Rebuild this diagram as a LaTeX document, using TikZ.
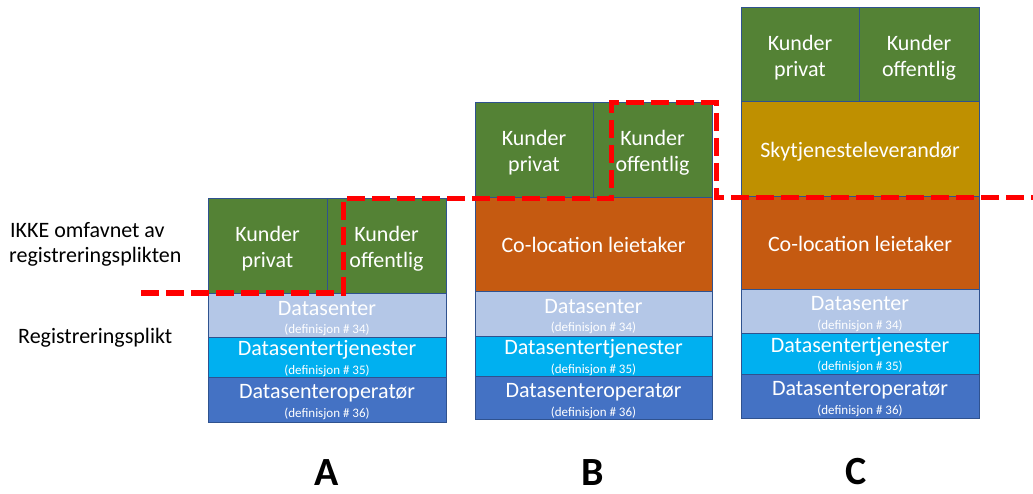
\documentclass[tikz,border=0pt]{standalone}
\usepackage{fontspec}
\setmainfont{Carlito}
\usetikzlibrary{calc}
\definecolor{kgreen}{HTML}{548235}
\definecolor{korange}{HTML}{C55A11}
\definecolor{kgold}{HTML}{BF9000}
\definecolor{kds}{HTML}{B4C7E7}
\definecolor{kdt}{HTML}{00B0F0}
\definecolor{kdo}{HTML}{4472C4}
\definecolor{kborder}{HTML}{2F528F}
\definecolor{kred}{HTML}{FF0000}
\tikzset{
  layer/.style={draw=kborder, line width=1pt, anchor=north west, inner sep=0pt, outer sep=0pt},
  big/.style={text=white, font=\fontsize{22}{26}\selectfont, text height=16pt, text depth=0pt},
  wtxt/.style={text=white, font=\fontsize{22}{26}\selectfont, anchor=base, inner sep=0pt},
  stxt/.style={text=white, font=\fontsize{13}{15}\selectfont, anchor=base, inner sep=0pt},
  side/.style={text=black, font=\fontsize{22}{26}\selectfont, anchor=base west, inner sep=0pt},
  letter/.style={text=black, font=\fontsize{40}{44}\selectfont\bfseries, anchor=base, inner sep=0pt},
  redline/.style={draw=kred, line width=5pt, dash pattern=on 18pt off 7pt}
}
\begin{document}
\begin{tikzpicture}[x=1pt,y=-1pt]
\useasboundingbox (0,0) rectangle (1033,494);

% ---------- Column A ----------
\node[layer, fill=kgreen, minimum width=119pt, minimum height=95pt] (akp) at (208,199) {};
\node[layer, fill=kgreen, minimum width=119pt, minimum height=95pt] (ako) at (327,199) {};
\node[layer, fill=kds, minimum width=238pt, minimum height=43pt] (ads) at (208,294) {};
\node[layer, fill=kdt, minimum width=238pt, minimum height=40pt] (adt) at (208,337) {};
\node[layer, fill=kdo, minimum width=238pt, minimum height=45pt] (ado) at (208,377) {};

% ---------- Column B ----------
\node[layer, fill=kgreen, minimum width=118pt, minimum height=94.5pt] (bkp) at (475,103) {};
\node[layer, fill=kgreen, minimum width=119pt, minimum height=94.5pt] (bko) at (593,103) {};
\node[layer, fill=korange, minimum width=237pt, minimum height=94.5pt, big] (bco) at (475,197.5) {Co-location leietaker};
\node[layer, fill=kds, minimum width=237pt, minimum height=44pt] (bds) at (475,292) {};
\node[layer, fill=kdt, minimum width=237pt, minimum height=40pt] (bdt) at (475,336) {};
\node[layer, fill=kdo, minimum width=237pt, minimum height=43pt] (bdo) at (475,376) {};

% ---------- Column C ----------
\node[layer, fill=kgreen, minimum width=118pt, minimum height=94pt] (ckp) at (741,8) {};
\node[layer, fill=kgreen, minimum width=120pt, minimum height=94pt] (cko) at (859,8) {};
\node[layer, fill=kgold, minimum width=238pt, minimum height=95pt, big] (csk) at (741,102) {Skytjenesteleverandør};
\node[layer, fill=korange, minimum width=238pt, minimum height=92.5pt, big] (cco) at (741,197) {Co-location leietaker};
\node[layer, fill=kds, minimum width=238pt, minimum height=44pt] (cds) at (741,289.5) {};
\node[layer, fill=kdt, minimum width=238pt, minimum height=40.5pt] (cdt) at (741,333.5) {};
\node[layer, fill=kdo, minimum width=238pt, minimum height=44pt] (cdo) at (741,374) {};

% ---------- Kunder texts ----------
\foreach \b/\t in {akp/privat, ako/offentlig, bkp/privat, bko/offentlig, ckp/privat, cko/offentlig}{
  \node[wtxt] (\b-1) at ($(\b.north)+(0,42.5)$) {Kunder};
  \node[wtxt] (\b-2) at ($(\b.north)+(0,69)$) {\t};
}

% ---------- Datasenter texts ----------
\foreach \c in {a,b,c}{
  \node[wtxt] (\c ds-1) at ($(\c ds.north)+(0,21)$) {Datasenter};
  \node[stxt] (\c ds-2) at ($(\c ds.north)+(0,39.5)$) {(definisjon \# 34)};
  \node[wtxt] (\c dt-1) at ($(\c dt.north)+(0,18.5)$) {Datasentertjenester};
  \node[stxt] (\c dt-2) at ($(\c dt.north)+(0,37)$) {(definisjon \# 35)};
  \node[wtxt] (\c do-1) at ($(\c do.north)+(0,21)$) {Datasenteroperatør};
  \node[stxt] (\c do-2) at ($(\c do.north)+(0,40)$) {(definisjon \# 36)};
}

% ---------- Side labels ----------
\node[side] (ikke1) at (10,238) {IKKE omfavnet av};
\node[side] (ikke2) at (9,263) {registreringsplikten};
\node[side] (reg) at (18,343) {Registreringsplikt};

% ---------- Letters ----------
\node[letter] (la) at (327,485.5) {A};
\node[letter] (lb) at (593,485.5) {B};
\node[letter] (lc) at (856,484) {C};

% ---------- Red dashed boundary ----------
\coordinate (r0) at (141,293);
\coordinate (r1) at (343,293);
\coordinate (r2) at (343,199);
\coordinate (r3) at (611,199);
\coordinate (r4) at (611,103);
\coordinate (r5) at (716,103);
\coordinate (r6) at (716,198);
\coordinate (r7) at (1033,198);
\draw[redline] (r0) -- (r1) -- (r2) -- (r3) -- (r4) -- (r5) -- (r6) -- (r7);
\end{tikzpicture}
\end{document}
